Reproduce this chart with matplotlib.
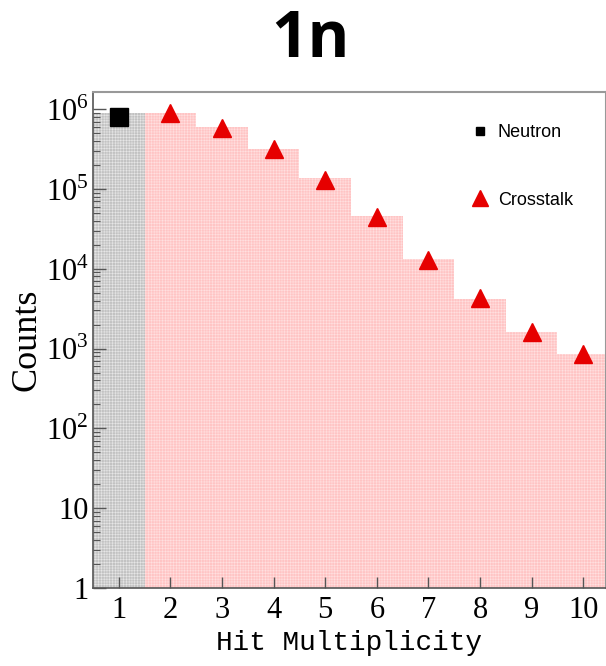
import matplotlib
matplotlib.use("Agg")
import matplotlib.pyplot as plt
from matplotlib.lines import Line2D
from matplotlib.ticker import LogLocator, FixedLocator, NullFormatter
import numpy as np

# data
neutron_mult = [1]
neutron_counts = [8.9e5]
neutron_marker = [8.0e5]
crosstalk_mult = [2, 3, 4, 5, 6, 7, 8, 9, 10]
crosstalk_counts = [8.9e5, 6.0e5, 3.2e5, 1.38e5, 4.6e4, 1.32e4, 4.2e3, 1.6e3, 8.5e2]
crosstalk_marker = [9.0e5, 5.8e5, 3.2e5, 1.3e5, 4.4e4, 1.3e4, 4.3e3, 1.6e3, 8.6e2]
xticks = [1, 2, 3, 4, 5, 6, 7, 8, 9, 10]
yticks = [1, 10, 1e2, 1e3, 1e4, 1e5, 1e6]
ytick_labels = ["1", "10", r"$10^2$", r"$10^3$", r"$10^4$", r"$10^5$", r"$10^6$"]

plt.rcParams['hatch.linewidth'] = 0.4
plt.rcParams['mathtext.fontset'] = 'custom'
plt.rcParams['mathtext.rm'] = 'Liberation Serif'

fig = plt.figure(figsize=(6.06, 6.66), dpi=100)
ax = fig.add_axes([93/606, 78/666, 1 - 93/606, 496/666])

ax.bar(neutron_mult, neutron_counts, width=1.0, color='#c2c2c2', edgecolor='#e6e6e6',
       linewidth=0, hatch='++++++', zorder=1)
ax.bar(crosstalk_mult, crosstalk_counts, width=1.0, color='#ffc4c4', edgecolor='#ffe0e0',
       linewidth=0, hatch='++++++', zorder=1)

ax.plot(neutron_mult, neutron_marker, linestyle='none', marker='s', markersize=13,
        color='black', zorder=3)
ax.plot(crosstalk_mult, crosstalk_marker, linestyle='none', marker='^', markersize=13,
        color='#e60000', zorder=3)

ax.set_yscale('log')
ax.set_xlim(0.5, 10.44)
ax.set_ylim(1, 1.64e6)

ax.set_xticks(xticks)
ax.set_xticklabels([str(v) for v in xticks], fontfamily='Liberation Serif', fontsize=22)
ax.yaxis.set_major_locator(FixedLocator(yticks))
ax.set_yticklabels(ytick_labels, fontfamily='Liberation Serif', fontsize=22)
ax.yaxis.set_minor_locator(LogLocator(base=10, subs=np.arange(2, 10)))
ax.yaxis.set_minor_formatter(NullFormatter())

ax.tick_params(axis='x', direction='in', length=8, width=1, color='#555555', pad=6,
               top=False)
ax.tick_params(axis='y', which='major', direction='in', length=9, width=1,
               color='#555555', pad=3, right=False)
ax.tick_params(axis='y', which='minor', direction='in', length=5, width=0.8,
               color='#555555', right=False)

for s in ['left', 'bottom']:
    ax.spines[s].set_color('#555555')
    ax.spines[s].set_linewidth(1.2)
for s in ['top', 'right']:
    ax.spines[s].set_color('#999999')
    ax.spines[s].set_linewidth(1.5)

ax.set_ylabel('Counts', fontfamily='Liberation Serif', fontsize=26, labelpad=2)
ax.set_xlabel('Hit Multiplicity', fontfamily='Liberation Mono', fontsize=20, labelpad=3)

handles = [Line2D([], [], linestyle='none', marker='s', markersize=6, color='black'),
           Line2D([], [], linestyle='none', marker='^', markersize=12, color='#e60000')]
leg = ax.legend(handles, ['Neutron', 'Crosstalk'], loc='upper left',
                bbox_to_anchor=(0.705, 0.968), frameon=False,
                prop={'family': 'Liberation Sans', 'size': 13},
                labelspacing=2.8, handlelength=1.0, handletextpad=0.5)

fig.text(310/606, 1 - 57/666, '1n', fontfamily='Open Sans', fontweight='bold',
         fontsize=46, ha='center', va='baseline')

fig.savefig('out.png', dpi=100)
